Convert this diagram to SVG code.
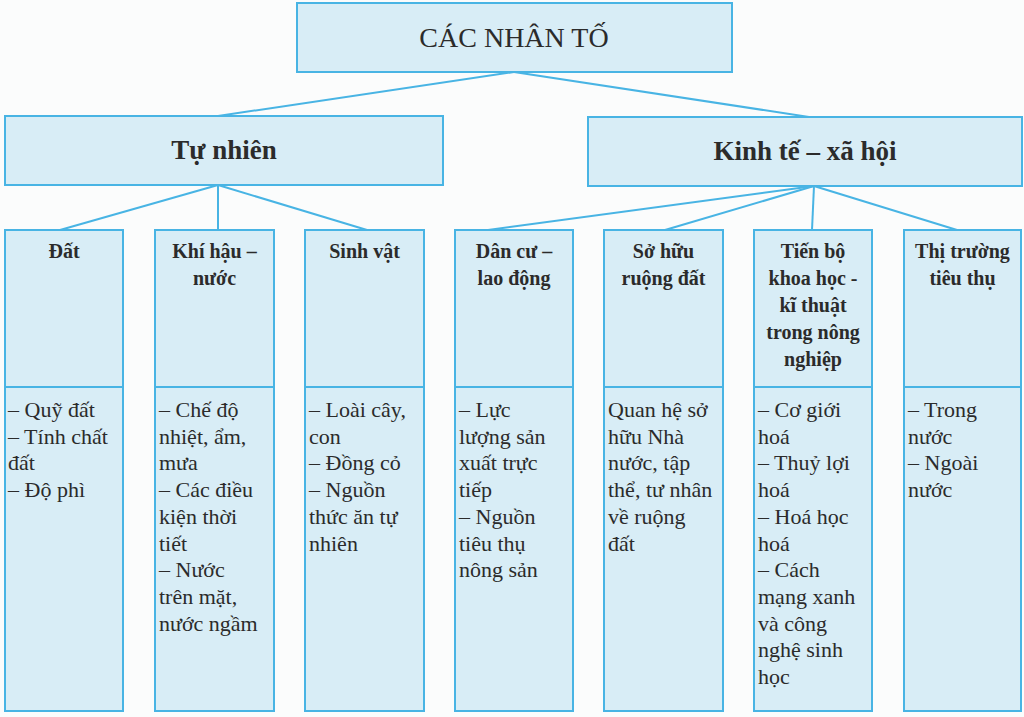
<svg xmlns="http://www.w3.org/2000/svg" width="1024" height="717" viewBox="0 0 1024 717">
<style>
.bx{fill:#d8edf6;stroke:#48b4e4;stroke-width:2}
.dv{stroke:#48b4e4;stroke-width:2}
.cn{stroke:#48b4e4;stroke-width:2;fill:none}
.t{font-family:"Liberation Serif","Times New Roman",serif;fill:#2b2b2b}
.h{font-weight:bold;font-size:20px;text-anchor:middle}
.b{font-size:22px}
.m{font-weight:bold;font-size:27px;text-anchor:middle}
</style>
<rect x="0" y="0" width="1024" height="717" fill="#fbfcfc"/>
<g id="connectors">
<line class="cn" x1="514" y1="72" x2="218" y2="116"/>
<line class="cn" x1="514" y1="72" x2="809" y2="117"/>
<line class="cn" x1="218" y1="185" x2="60" y2="230"/>
<line class="cn" x1="218" y1="185" x2="218" y2="230"/>
<line class="cn" x1="218" y1="185" x2="367" y2="230"/>
<line class="cn" x1="814" y1="186" x2="488" y2="230"/>
<line class="cn" x1="814" y1="186" x2="665" y2="230"/>
<line class="cn" x1="814" y1="186" x2="812" y2="230"/>
<line class="cn" x1="814" y1="186" x2="957" y2="230"/>
</g>
<g id="root">
<rect class="bx" x="297" y="3" width="435" height="69"/>
<text class="t" x="514" y="47" font-size="28" text-anchor="middle">CÁC NHÂN TỐ</text>
</g>
<g id="tunhien">
<rect class="bx" x="5" y="116" width="438" height="69"/>
<text class="t m" x="224" y="159">Tự nhiên</text>
</g>
<g id="kinhte">
<rect class="bx" x="588" y="117" width="434" height="69"/>
<text class="t m" x="805" y="160">Kinh tế – xã hội</text>
</g>
<g id="dat">
<rect class="bx" x="5" y="230" width="118" height="481"/>
<line class="dv" x1="5" y1="387" x2="123" y2="387"/>
<text class="t h" x="64" y="258">Đất</text>
<text class="t b" x="8" y="417"><tspan x="8">– Quỹ đất</tspan><tspan x="8" dy="26.7">– Tính chất</tspan><tspan x="8" dy="26.7">đất</tspan><tspan x="8" dy="26.7">– Độ phì</tspan></text>
</g>
<g id="khihau">
<rect class="bx" x="155" y="230" width="119" height="481"/>
<line class="dv" x1="155" y1="387" x2="274" y2="387"/>
<text class="t h" x="214.5" y="258"><tspan x="214.5">Khí hậu –</tspan><tspan x="214.5" dy="27">nước</tspan></text>
<text class="t b" x="159" y="417"><tspan x="159">– Chế độ</tspan><tspan x="159" dy="26.7">nhiệt, ẩm,</tspan><tspan x="159" dy="26.7">mưa</tspan><tspan x="159" dy="26.7">– Các điều</tspan><tspan x="159" dy="26.7">kiện thời</tspan><tspan x="159" dy="26.7">tiết</tspan><tspan x="159" dy="26.7">– Nước</tspan><tspan x="159" dy="26.7">trên mặt,</tspan><tspan x="159" dy="26.7">nước ngầm</tspan></text>
</g>
<g id="sinhvat">
<rect class="bx" x="305" y="230" width="119" height="481"/>
<line class="dv" x1="305" y1="387" x2="424" y2="387"/>
<text class="t h" x="364.5" y="258">Sinh vật</text>
<text class="t b" x="309" y="417"><tspan x="309">– Loài cây,</tspan><tspan x="309" dy="26.7">con</tspan><tspan x="309" dy="26.7">– Đồng cỏ</tspan><tspan x="309" dy="26.7">– Nguồn</tspan><tspan x="309" dy="26.7">thức ăn tự</tspan><tspan x="309" dy="26.7">nhiên</tspan></text>
</g>
<g id="dancu">
<rect class="bx" x="455" y="230" width="118" height="481"/>
<line class="dv" x1="455" y1="387" x2="573" y2="387"/>
<text class="t h" x="514" y="258"><tspan x="514">Dân cư –</tspan><tspan x="514" dy="27">lao động</tspan></text>
<text class="t b" x="459" y="417"><tspan x="459">– Lực</tspan><tspan x="459" dy="26.7">lượng sản</tspan><tspan x="459" dy="26.7">xuất trực</tspan><tspan x="459" dy="26.7">tiếp</tspan><tspan x="459" dy="26.7">– Nguồn</tspan><tspan x="459" dy="26.7">tiêu thụ</tspan><tspan x="459" dy="26.7">nông sản</tspan></text>
</g>
<g id="sohuu">
<rect class="bx" x="604" y="230" width="119" height="481"/>
<line class="dv" x1="604" y1="387" x2="723" y2="387"/>
<text class="t h" x="663.5" y="258"><tspan x="663.5">Sở hữu</tspan><tspan x="663.5" dy="27">ruộng đất</tspan></text>
<text class="t b" x="608" y="417"><tspan x="608">Quan hệ sở</tspan><tspan x="608" dy="26.7">hữu Nhà</tspan><tspan x="608" dy="26.7">nước, tập</tspan><tspan x="608" dy="26.7">thể, tư nhân</tspan><tspan x="608" dy="26.7">về ruộng</tspan><tspan x="608" dy="26.7">đất</tspan></text>
</g>
<g id="tienbo">
<rect class="bx" x="754" y="230" width="118" height="481"/>
<line class="dv" x1="754" y1="387" x2="872" y2="387"/>
<text class="t h" x="813" y="258"><tspan x="813">Tiến bộ</tspan><tspan x="813" dy="27">khoa học -</tspan><tspan x="813" dy="27">kĩ thuật</tspan><tspan x="813" dy="27">trong nông</tspan><tspan x="813" dy="27">nghiệp</tspan></text>
<text class="t b" x="758" y="417"><tspan x="758">– Cơ giới</tspan><tspan x="758" dy="26.7">hoá</tspan><tspan x="758" dy="26.7">– Thuỷ lợi</tspan><tspan x="758" dy="26.7">hoá</tspan><tspan x="758" dy="26.7">– Hoá học</tspan><tspan x="758" dy="26.7">hoá</tspan><tspan x="758" dy="26.7">– Cách</tspan><tspan x="758" dy="26.7">mạng xanh</tspan><tspan x="758" dy="26.7">và công</tspan><tspan x="758" dy="26.7">nghệ sinh</tspan><tspan x="758" dy="26.7">học</tspan></text>
</g>
<g id="thitruong">
<rect class="bx" x="904" y="230" width="117" height="481"/>
<line class="dv" x1="904" y1="387" x2="1021" y2="387"/>
<text class="t h" x="962.5" y="258"><tspan x="962.5">Thị trường</tspan><tspan x="962.5" dy="27">tiêu thụ</tspan></text>
<text class="t b" x="908" y="417"><tspan x="908">– Trong</tspan><tspan x="908" dy="26.7">nước</tspan><tspan x="908" dy="26.7">– Ngoài</tspan><tspan x="908" dy="26.7">nước</tspan></text>
</g>
</svg>
